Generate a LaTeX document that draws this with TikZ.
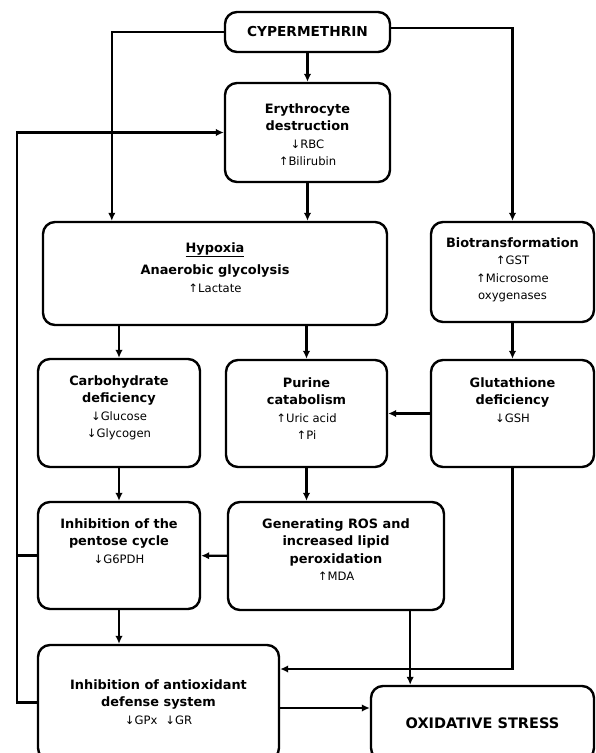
\documentclass[tikz,border=0pt]{standalone}
\usepackage{fontspec}
\setmainfont{DejaVu Sans}
\usetikzlibrary{arrows.meta}

\newcommand{\hd}[1]{{\fontsize{12.9}{17.5}\selectfont\bfseries #1}}
\tikzset{
  box/.style={draw, line width=2.4pt, rounded corners=12pt, align=center,
    inner xsep=4pt, inner ysep=0pt, font=\fontsize{11.6}{17.5}\selectfont},
  link/.style={line width=2.4pt},
  pre/.style={link, {Latex[length=8pt,width=7.5pt]}-},
  post/.style={link, -{Latex[length=8pt,width=7.5pt]}},
}

\begin{document}
\begin{tikzpicture}[x=1pt,y=-1pt]
	\useasboundingbox (0,0) rectangle (596,753);
	\clip (0,0) rectangle (596,753);
	\node [box, minimum width=165pt, minimum height=40pt, font=\fontsize{13.7}{17.5}\selectfont\bfseries]	(cyp)	at (307.5,32)	{CYPERMETHRIN};
	\node [box, minimum width=165pt, text height=82.5pt, text depth=16.5pt]	(ery)	at (307.5,132.5)
		{\hd{Erythrocyte}\\\hd{destruction}\\↓RBC\\↑Bilirubin}
		edge [pre]	(cyp);
	\node [box, minimum width=344pt, text height=70pt, text depth=33pt]	(hyp)	at (215,273.5)
		{\hd{\underline{Hypoxia}}\\[5pt]\hd{Anaerobic glycolysis}\\↑Lactate};
	\node [box, minimum width=163pt, text height=77.5pt, text depth=22.5pt]	(bio)	at (512.5,272)
		{\hd{Biotransformation}\\↑GST\\↑Microsome\\oxygenases};
	\node [box, minimum width=162pt, text height=78.5pt, text depth=29.5pt]	(carb)	at (119,413)
		{\hd{Carbohydrate}\\\hd{deficiency}\\↓Glucose\\↓Glycogen};
	\node [box, minimum width=161pt, text height=79.5pt, text depth=27.5pt]	(pur)	at (306.5,413.5)
		{\hd{Purine}\\\hd{catabolism}\\↑Uric acid\\↑Pi};
	\node [box, minimum width=163pt, text height=62pt, text depth=45pt]	(glut)	at (512.5,413.5)
		{\hd{Glutathione}\\\hd{deficiency}\\↓GSH}
		edge [pre]	(bio)
		edge [post]	(pur);
	\node [box, minimum width=162pt, text height=61pt, text depth=46pt]	(pent)	at (119,555.5)
		{\hd{Inhibition of the}\\\hd{pentose cycle}\\↓G6PDH}
		edge [pre]	(carb);
	\node [box, minimum width=216pt, text height=78.5pt, text depth=29.5pt]	(ros)	at (336,556)
		{\hd{Generating ROS and}\\\hd{increased lipid}\\\hd{peroxidation}\\↑MDA}
		edge [post]	(pent);
	\node [box, minimum width=241pt, text height=79pt, text depth=36pt]	(anti)	at (158.5,702.5)
		{\hd{Inhibition of antioxidant}\\\hd{defense system}\\↓GPx\hspace{8pt}↓GR};
	\node [box, minimum width=223pt, text height=42pt, text depth=32pt, font=\fontsize{14.5}{17.5}\selectfont\bfseries]	(oxi)	at (482.5,723)
		{OXIDATIVE STRESS};
	\coordinate (back) at (17,702.5);

	% from cypermethrin
	\draw [post] (cyp.west) -| ([xshift=70pt]hyp.north west);
	\draw [post] ([yshift=4pt]cyp.east) -| (bio.north);
	\draw [post] (ery.south) -- (ery.south |- hyp.north);
	% hypoxia branches
	\draw [post] (hyp.south -| carb.north) -- (carb.north);
	\draw [post] (hyp.south -| pur.north) -- (pur.north);
	\draw [post] (pur.south) -- (pur.south |- ros.north);
	\draw [post] (pent.south) -- (pent.south |- anti.north);
	% towards oxidative stress
	\draw [post] ([xshift=-35pt]ros.south east) -- ([xshift=-35pt]ros.south east |- oxi.north);
	\draw [post] (glut.south) |- ([yshift=33.5pt]anti.east);
	\draw [post] ([yshift=-5.5pt]anti.east) -- ([yshift=-5.5pt]anti.east -| oxi.west);
	% feedback loop
	\draw [post] (anti.west) -- (back) |- (ery.west);
	\draw [link] (pent.west) -- (pent.west -| back);
\end{tikzpicture}
\end{document}
